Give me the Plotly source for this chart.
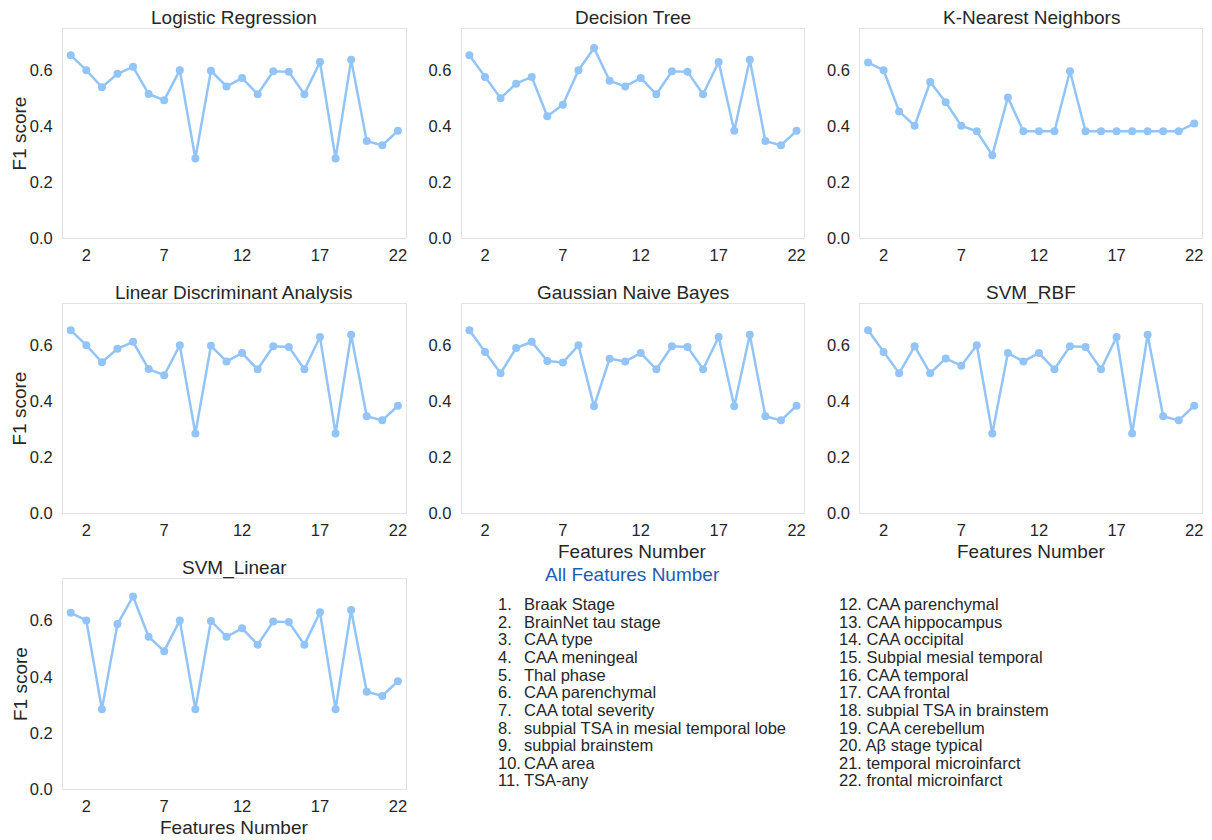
import plotly.graph_objects as go

W, H = 1212, 840

features_number = list(range(1, 23))

logistic_regression = [0.653, 0.600, 0.539, 0.587, 0.612, 0.515, 0.493, 0.600, 0.285, 0.598, 0.542,
                       0.572, 0.514, 0.596, 0.594, 0.514, 0.629, 0.285, 0.637, 0.347, 0.332, 0.384]
decision_tree = [0.653, 0.576, 0.500, 0.552, 0.576, 0.436, 0.477, 0.600, 0.679, 0.562, 0.542,
                 0.572, 0.514, 0.596, 0.594, 0.514, 0.629, 0.384, 0.637, 0.347, 0.332, 0.384]
k_nearest_neighbors = [0.627, 0.600, 0.453, 0.402, 0.558, 0.486, 0.402, 0.382, 0.297, 0.503, 0.382,
                       0.382, 0.382, 0.596, 0.382, 0.382, 0.382, 0.382, 0.382, 0.382, 0.382, 0.410]
linear_discriminant = [0.653, 0.600, 0.539, 0.587, 0.612, 0.515, 0.493, 0.600, 0.285, 0.598, 0.542,
                       0.572, 0.514, 0.596, 0.594, 0.514, 0.629, 0.285, 0.637, 0.347, 0.332, 0.384]
gaussian_nb = [0.653, 0.576, 0.500, 0.590, 0.612, 0.544, 0.538, 0.600, 0.382, 0.552, 0.542,
               0.572, 0.514, 0.596, 0.594, 0.514, 0.629, 0.382, 0.637, 0.347, 0.332, 0.384]
svm_rbf = [0.653, 0.576, 0.500, 0.596, 0.500, 0.553, 0.527, 0.600, 0.285, 0.572, 0.542,
           0.572, 0.514, 0.596, 0.594, 0.514, 0.629, 0.285, 0.637, 0.347, 0.332, 0.384]
svm_linear = [0.627, 0.600, 0.285, 0.587, 0.685, 0.542, 0.491, 0.600, 0.285, 0.598, 0.542,
              0.572, 0.514, 0.596, 0.594, 0.514, 0.629, 0.285, 0.637, 0.347, 0.332, 0.384]

model_titles = ["Logistic Regression", "Decision Tree", "K-Nearest Neighbors",
                "Linear Discriminant Analysis", "Gaussian Naive Bayes", "SVM_RBF", "SVM_Linear"]
model_scores = [logistic_regression, decision_tree, k_nearest_neighbors,
                linear_discriminant, gaussian_nb, svm_rbf, svm_linear]

x_tick_values = [2, 7, 12, 17, 22]
y_tick_values = [0.0, 0.2, 0.4, 0.6]

features_left = ["Braak Stage", "BrainNet tau stage", "CAA type", "CAA meningeal", "Thal phase",
                 "CAA parenchymal", "CAA total severity", "subpial TSA in mesial temporal lobe",
                 "subpial brainstem", "CAA area", "TSA-any"]
features_right = ["CAA parenchymal", "CAA hippocampus", "CAA occipital", "Subpial mesial temporal",
                  "CAA temporal", "CAA frontal", "subpial TSA in brainstem", "CAA cerebellum",
                  "Aβ stage typical", "temporal microinfarct", "frontal microinfarct"]

LINE = "#92C4F8"
FRAME = "#E2E2E2"
TEXT = "#262626"
FONT = "Liberation Sans, Arial, sans-serif"


def px_x(x):
    return x / W


def px_y(y):
    return 1 - y / H


# panel boxes in pixels: (left, right, top, bottom)
cols = [(63, 406), (462, 805), (861, 1203)]
rows = [(29, 241), (307, 519), (585, 798)]
cells = [(0, 0), (0, 1), (0, 2), (1, 0), (1, 1), (1, 2), (2, 0)]

fig = go.Figure()
annotations = []
layout = {}

for i, (title, scores) in enumerate(zip(model_titles, model_scores)):
    r, c = cells[i]
    l, rgt = cols[c]
    t, b = rows[r]
    n = i + 1
    sfx = "" if n == 1 else str(n)
    fig.add_trace(go.Scatter(
        x=features_number, y=scores, mode="lines+markers",
        line=dict(color=LINE, width=2.5), marker=dict(color=LINE, size=8),
        xaxis=f"x{sfx}", yaxis=f"y{sfx}",
        showlegend=False, hoverinfo="x+y"))
    axis_common = dict(showgrid=False, zeroline=False, showline=True, mirror=True,
                       linecolor=FRAME, linewidth=1, ticks="",
                       tickfont=dict(family=FONT, size=16.5, color=TEXT))
    layout[f"xaxis{sfx}"] = dict(axis_common, domain=[px_x(l), px_x(rgt)], range=[0.5, 22.5],
                                 tickvals=x_tick_values, anchor=f"y{sfx}",
                                 ticklabelstandoff=2)
    layout[f"yaxis{sfx}"] = dict(axis_common, domain=[px_y(b), px_y(t)], range=[0, 0.748],
                                 tickvals=y_tick_values, tickformat=".1f", anchor=f"x{sfx}",
                                 ticklabelstandoff=6)
    annotations.append(dict(text=title, x=px_x((l + rgt) / 2), y=px_y(t - 11),
                            xref="paper", yref="paper", xanchor="center", yanchor="middle",
                            showarrow=False, font=dict(family=FONT, size=19, color=TEXT)))
    if c == 0:
        annotations.append(dict(text="F1 score", x=px_x(20), y=px_y((t + b) / 2), textangle=-90,
                                xref="paper", yref="paper", xanchor="center", yanchor="middle",
                                showarrow=False, font=dict(family=FONT, size=19, color=TEXT)))
    if (r, c) in [(1, 1), (1, 2), (2, 0)]:
        annotations.append(dict(text="Features Number", x=px_x((l + rgt) / 2), y=px_y(b + 38),
                                xref="paper", yref="paper", xanchor="center", yanchor="middle",
                                showarrow=False, font=dict(family=FONT, size=19, color=TEXT)))

annotations.append(dict(text="All Features Number", x=px_x(633), y=px_y(581),
                        xref="paper", yref="paper", xanchor="center", yanchor="middle",
                        showarrow=False, font=dict(family=FONT, size=19, color="#1F5BB5")))

line_step = 17.84
for k, name in enumerate(features_left):
    yy = px_y(610.5 + k * line_step)
    annotations.append(dict(text=f"{k + 1}.", x=px_x(496), y=yy, xref="paper", yref="paper",
                            xanchor="left", yanchor="middle", showarrow=False,
                            font=dict(family=FONT, size=16.5, color=TEXT)))
    annotations.append(dict(text=name, x=px_x(522), y=yy, xref="paper", yref="paper",
                            xanchor="left", yanchor="middle", showarrow=False,
                            font=dict(family=FONT, size=16.5, color=TEXT)))
for k, name in enumerate(features_right):
    yy = px_y(610.5 + k * line_step)
    annotations.append(dict(text=f"{k + 12}. {name}", x=px_x(838), y=yy, xref="paper", yref="paper",
                            xanchor="left", yanchor="middle", showarrow=False,
                            font=dict(family=FONT, size=16.5, color=TEXT)))

fig.update_layout(width=W, height=H, margin=dict(l=0, r=0, t=0, b=0),
                  paper_bgcolor="white", plot_bgcolor="white",
                  font=dict(family=FONT, color=TEXT), annotations=annotations, **layout)

fig.write_html("out.html")
